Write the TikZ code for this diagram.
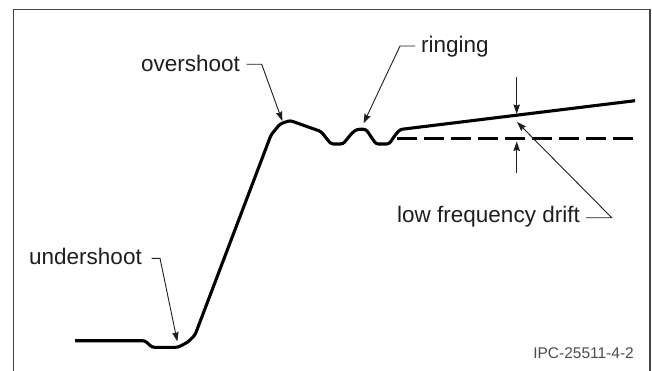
\documentclass[tikz,border=0pt]{standalone}
\usepackage{fontspec}
\setmainfont{Liberation Sans}
\usetikzlibrary{arrows.meta}
\definecolor{ink}{RGB}{30,30,30}
\definecolor{framegray}{RGB}{70,70,70}
\tikzset{
  lbl/.style={inner sep=0pt, font=\fontsize{22.5}{26}\selectfont, text=ink},
  idlbl/.style={inner sep=0pt, font=\fontsize{15.5}{18}\selectfont, text=black!70},
  leader/.style={draw=ink, line width=0.9pt, -{Stealth[length=9.5pt,width=6.5pt,inset=1.2pt]}},
  wave/.style={draw=black, line width=3.1pt, rounded corners=2.5pt, line join=round},
  baseline/.style={draw=black, line width=3.8pt, dash pattern=on 20pt off 7pt},
  framebox/.style={draw=framegray, line width=1.3pt}
}
\begin{document}
\begin{tikzpicture}[x=1pt,y=-1pt]
\useasboundingbox (0,0) rectangle (652,371);
% frame (open at the bottom)
\draw[framebox] (13.5,372) -- (13.5,9.5) -- (650,9.5) -- (650,372);

% waveform
\coordinate (w0) at (75,340.7);
\coordinate (wend) at (635,100.7);
\draw[wave] (w0) -- (145,340.7) -- (152,347.3) -- (178,347.3) -- (188,342) -- (195,335)
  -- (271,135) -- (280,124) -- (290,120.5) -- (321,131.5) -- (331,144) -- (343,144)
  -- (352,133) -- (357,129.3) -- (366,129.3) -- (376,144) -- (389,144) -- (396,134)
  -- (400,129.5) -- (wend);

% dashed reference level
\coordinate (d0) at (397,138.5);
\coordinate (d1) at (633,138.5);
\draw[baseline] (d0) -- (d1);

% labels
\node[lbl, anchor=base west] (us) at (29,264.3) {undershoot};
\node[lbl, anchor=base west] (os) at (141,71.5) {overshoot};
\node[lbl, anchor=base west] (rg) at (421,53) {ringing};
\node[lbl, anchor=base east] (lf) at (580,222.5) {low frequency drift};
\node[idlbl, anchor=base east] (id) at (634,358) {IPC-25511-4-2};

% undershoot leader
\coordinate (usA) at (151.7,258.3);
\coordinate (usB) at (160,258.3);
\coordinate (usT) at (177.3,341.5);
\draw[leader] (usA) -- (usB) -- (usT);

% overshoot leader
\coordinate (osA) at (246.7,64.3);
\coordinate (osB) at (261.7,64.3);
\coordinate (osT) at (282.3,121);
\draw[leader] (osA) -- (osB) -- (osT);

% ringing leader
\coordinate (rgA) at (415,46);
\coordinate (rgB) at (400,46);
\coordinate (rgT) at (363.5,123.5);
\draw[leader] (rgA) -- (rgB) -- (rgT);

% drift leader
\coordinate (lfA) at (586,217.7);
\coordinate (lfB) at (611.7,217.7);
\coordinate (lfT) at (517,122);
\draw[leader] (lfA) -- (lfB) -- (lfT);

% drift dimension arrows
\coordinate (vtA) at (516.7,77);
\coordinate (vtT) at (516.7,114);
\coordinate (vbA) at (516.7,173.3);
\coordinate (vbT) at (516.7,141.5);
\draw[leader] (vtA) -- (vtT);
\draw[leader] (vbA) -- (vbT);
\end{tikzpicture}
\end{document}
